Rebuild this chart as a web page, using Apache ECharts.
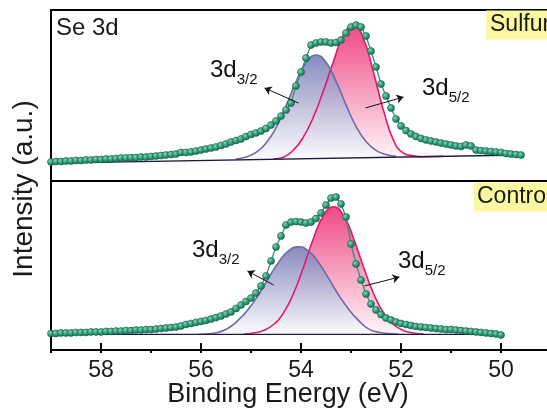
<!DOCTYPE html>
<html>
<head>
<meta charset="utf-8">
<title>Se 3d XPS</title>
<script src="https://cdn.jsdelivr.net/npm/echarts@6/dist/echarts.min.js"></script>
<style>
    html, body { margin: 0; padding: 0; background: #fff; }
    #xps_con { width: 547px; height: 416px; }
</style>
</head>
<body>
<div id="xps_con"></div>
<script>
// binding energy of the scan points (eV)
const energy = [
    59.0, 58.9, 58.8, 58.7, 58.6, 58.5, 58.4, 58.3, 58.2, 58.1,
    58.0, 57.9, 57.8, 57.7, 57.6, 57.5, 57.4, 57.3, 57.2, 57.1,
    57.0, 56.9, 56.8, 56.7, 56.6, 56.5, 56.4, 56.3, 56.2, 56.1,
    56.0, 55.9, 55.8, 55.7, 55.6, 55.5, 55.4, 55.3, 55.2, 55.1,
    55.0, 54.9, 54.8, 54.7, 54.6, 54.5, 54.4, 54.3, 54.2, 54.1,
    54.0, 53.9, 53.8, 53.7, 53.6, 53.5, 53.4, 53.3, 53.2, 53.1,
    53.0, 52.9, 52.8, 52.7, 52.6, 52.5, 52.4, 52.3, 52.2, 52.1,
    52.0, 51.9, 51.8, 51.7, 51.6, 51.5, 51.4, 51.3, 51.2, 51.1,
    51.0, 50.9, 50.8, 50.7, 50.6, 50.5, 50.4, 50.3, 50.2, 50.1,
    50.0, 49.9, 49.8, 49.7, 49.6
];

// measured intensity (a.u.), same order as energy
const sulfurData = [
    11.1, 11.4, 11.4, 11.7, 11.7, 12.0, 12.0, 12.3, 12.3, 12.6,
    12.6, 12.9, 12.9, 13.2, 13.5, 13.5, 13.7, 13.7, 14.0, 14.0,
    14.3, 14.6, 14.9, 15.2, 15.5, 15.8, 16.7, 16.7, 17.0, 17.5,
    18.1, 18.7, 19.3, 19.9, 20.8, 21.6, 22.8, 23.7, 24.6, 26.0,
    27.2, 28.1, 29.2, 30.7, 32.7, 35.1, 38.0, 41.5, 45.6, 55.6,
    63.7, 71.9, 79.5, 80.7, 81.3, 81.3, 80.7, 81.0, 82.5, 86.5,
    90.1, 91.2, 90.1, 84.8, 76.0, 66.7, 56.7, 49.7, 42.7, 36.3,
    32.2, 29.5, 27.5, 26.0, 24.9, 24.0, 23.4, 22.8, 22.2, 21.6,
    21.1, 20.5, 20.2, 21.1, 20.5, 18.1, 17.8, 17.5, 17.3, 17.0,
    16.7, 16.1, 15.8, 15.5, 15.2
];
const controlData = [
    9.8, 9.8, 10.1, 10.1, 10.1, 10.4, 10.4, 10.4, 10.7, 10.7,
    10.7, 11.0, 11.0, 11.2, 11.2, 11.5, 11.5, 11.8, 11.8, 12.1,
    12.1, 12.4, 12.7, 13.0, 13.3, 13.6, 14.2, 15.1, 15.7, 16.3,
    16.9, 17.5, 18.3, 19.2, 20.1, 21.3, 22.5, 24.6, 26.6, 28.7,
    30.8, 33.7, 37.9, 43.8, 52.7, 61.0, 67.5, 74.0, 75.7, 76.0,
    75.7, 75.1, 75.7, 77.8, 81.1, 85.8, 89.9, 90.5, 86.4, 78.7,
    62.7, 50.9, 41.4, 33.1, 27.2, 23.7, 21.0, 18.9, 17.8, 16.6,
    15.7, 15.1, 14.5, 13.9, 13.6, 13.3, 13.0, 12.7, 12.4, 12.1,
    12.1, 11.8, 11.5, 11.2, 11.0, 10.7, 10.4, 10.1, 9.8, 9.5,
    8.9
];

// fitted components [eV, intensity]
const sulfur32 = [
    [55.3, 12.8], [55.1, 14.0], [54.9, 16.7], [54.7, 22.1], [54.5, 31.2], [54.3, 43.9],
    [54.1, 58.0], [53.9, 69.2], [53.7, 73.7], [53.5, 69.4], [53.3, 58.4], [53.1, 44.5],
    [52.9, 32.0], [52.7, 23.1], [52.5, 17.9], [52.3, 15.5], [52.1, 14.4]
];
const sulfur52 = [
    [54.55, 12.9], [54.35, 13.9], [54.15, 18.1], [53.95, 25.8], [53.75, 37.6], [53.55, 52.9],
    [53.35, 70.0], [53.15, 85.3], [52.95, 91.3], [52.75, 83.2], [52.55, 63.4], [52.35, 41.3],
    [52.15, 23.8], [51.95, 16.3], [51.75, 14.7], [51.55, 14.2], [51.35, 14.3], [51.15, 14.4]
];
const control32 = [
    [56.05, 9.3], [55.85, 9.6], [55.65, 10.5], [55.45, 13.0], [55.25, 17.8], [55.05, 24.3],
    [54.85, 32.7], [54.65, 42.5], [54.45, 51.8], [54.25, 58.6], [54.05, 61.1], [53.85, 58.6],
    [53.65, 51.8], [53.45, 42.5], [53.25, 32.7], [53.05, 24.3], [52.85, 17.5], [52.65, 12.5],
    [52.45, 10.5], [52.25, 9.8], [52.05, 9.4]
];
const control52 = [
    [55.15, 9.5], [54.95, 10.1], [54.75, 11.6], [54.55, 15.1], [54.35, 22.0], [54.15, 33.4],
    [53.95, 49.1], [53.75, 66.1], [53.55, 79.6], [53.35, 84.8], [53.15, 79.6], [52.95, 66.1],
    [52.75, 49.1], [52.55, 33.4], [52.35, 22.0], [52.15, 15.1], [51.95, 11.6], [51.75, 10.1],
    [51.55, 9.5]
];

// backgrounds
const sulfurBg = [[59.0, 10.4], [49.6, 15.2]];
const controlBg = [[59.0, 9.3], [50.0, 9.3]];

// annotation arrows [tail, head] in data coords
const sulfurArrows = [[[54.05, 45.6], [54.73, 54.4]], [[52.71, 42.7], [51.95, 49.1]]];
const controlArrows = [[[54.55, 38.5], [55.07, 46.7]], [[52.73, 37.9], [52.03, 43.2]]];

const font = '"Liberation Sans", Arial, Helvetica, sans-serif';

function pairs(values) {
    return values.map((v, i) => [energy[i], v]);
}

function grad(top, bottom) {
    return {
        type: 'linear', x: 0, y: 0, x2: 0, y2: 1,
        colorStops: [{ offset: 0, color: top }, { offset: 1, color: bottom }]
    };
}

const dotColor = {
    type: 'radial', x: 0.35, y: 0.35, r: 0.75,
    colorStops: [
        { offset: 0, color: '#86d3b6' },
        { offset: 0.5, color: '#2f9c78' },
        { offset: 1, color: '#145e47' }
    ]
};

function arrowMark(list) {
    return {
        silent: true,
        symbol: ['none', 'arrow'],
        symbolSize: 7,
        lineStyle: { color: '#111', width: 1, type: 'solid' },
        label: { show: false },
        emphasis: { disabled: true },
        data: list.map(a => [{ coord: a[0] }, { coord: a[1] }])
    };
}

function panelSeries(idx, data, bg, p32, p52, base, arrows) {
    return [{
        type: 'line', xAxisIndex: idx, yAxisIndex: idx,
        data: p52, smooth: 0.5, symbol: 'none',
        lineStyle: { color: '#e3186e', width: 1.6 },
        areaStyle: { origin: base, color: grad('#ee3f7e', '#fff6f9'), opacity: 0.95 },
        markLine: arrowMark([arrows[1]])
    }, {
        type: 'line', xAxisIndex: idx, yAxisIndex: idx,
        data: p32, smooth: 0.5, symbol: 'none',
        lineStyle: { color: '#6d6aa7', width: 1.6 },
        areaStyle: { origin: base, color: grad('#7c7eb8', '#fbfbfd'), opacity: 0.9 },
        markLine: arrowMark([arrows[0]])
    }, {
        type: 'line', xAxisIndex: idx, yAxisIndex: idx,
        data: bg, symbol: 'none',
        lineStyle: { color: '#1c1c3a', width: 1.3 }
    }, {
        type: 'line', xAxisIndex: idx, yAxisIndex: idx,
        data: pairs(data),
        symbol: 'circle', symbolSize: 7,
        itemStyle: { color: dotColor, borderColor: '#155f48', borderWidth: 0.6 },
        lineStyle: { color: '#2a9673', width: 1.3 }
    }];
}

function subLabel(left, top, sub) {
    return {
        type: 'text', left: left, top: top, z: 100,
        style: {
            text: '{a|3d}{b|' + sub + '}',
            fill: '#111',
            rich: {
                a: { fontSize: 24, lineHeight: 34, fontFamily: font, fill: '#111' },
                b: { fontSize: 15, verticalAlign: 'bottom', fontFamily: font, fill: '#111' }
            }
        }
    };
}

const chart = echarts.init(document.getElementById('xps_con'));

const frame = {
    show: true, borderColor: '#000', borderWidth: 2,
    backgroundColor: 'transparent', outerBoundsMode: 'none', containLabel: false
};

const option = {
    animation: false,
    backgroundColor: '#fff',
    grid: [
        Object.assign({ left: 51, right: -54, top: 10, height: 171 }, frame),
        Object.assign({ left: 51, right: -54, top: 181, height: 169 }, frame)
    ],
    xAxis: [{
        gridIndex: 0, type: 'value', min: 48, max: 59, inverse: true,
        axisLine: { show: false }, axisTick: { show: false },
        axisLabel: { show: false }, splitLine: { show: false }
    }, {
        gridIndex: 1, type: 'value', min: 48, max: 59, interval: 2, inverse: true,
        axisLine: { show: true, onZero: false, lineStyle: { color: '#000', width: 2 } },
        axisTick: { inside: true, length: 7, lineStyle: { color: '#000', width: 2 } },
        axisLabel: {
            fontSize: 23, color: '#1a1a1a', margin: 9, fontFamily: font,
            showMaxLabel: false, showMinLabel: false
        },
        splitLine: { show: false }
    }, {
        gridIndex: 1, type: 'value', min: 48, max: 59, interval: 1, inverse: true,
        axisLine: { show: false },
        axisTick: { inside: true, length: 3, lineStyle: { color: '#000', width: 2 } },
        axisLabel: { show: false }, splitLine: { show: false }
    }],
    yAxis: [
        { gridIndex: 0, type: 'value', min: 0, max: 100, show: false },
        { gridIndex: 1, type: 'value', min: 0, max: 100, show: false }
    ],
    graphic: [
        {
            type: 'text', x: 24, y: 189, rotation: Math.PI / 2, z: 100,
            style: {
                text: 'Intensity (a.u.)', fontSize: 28, fontFamily: font, fill: '#1a1a1a',
                textAlign: 'center', textVerticalAlign: 'middle', verticalAlign: 'middle'
            }
        },
        {
            type: 'text', x: 288, y: 395, z: 100,
            style: {
                text: 'Binding Energy (eV)', fontSize: 27, fontFamily: font, fill: '#1a1a1a',
                textAlign: 'center', textVerticalAlign: 'middle', verticalAlign: 'middle'
            }
        },
        {
            type: 'text', x: 56, y: 28, z: 100,
            style: {
                text: 'Se 3d', fontSize: 24, fontFamily: font, fill: '#1a1a1a',
                textAlign: 'left', textVerticalAlign: 'middle', verticalAlign: 'middle'
            }
        },
        {
            type: 'text', x: 486, y: 25, z: 100,
            style: {
                text: 'Sulfur', fontSize: 23, fontFamily: font, fill: '#1a1a1a',
                backgroundColor: '#fbf8a2', padding: [3, 4],
                textAlign: 'left', textVerticalAlign: 'middle', verticalAlign: 'middle'
            }
        },
        {
            type: 'text', x: 474, y: 197, z: 100,
            style: {
                text: 'Control', fontSize: 23, fontFamily: font, fill: '#1a1a1a',
                backgroundColor: '#fbf8a2', padding: [3, 3],
                textAlign: 'left', textVerticalAlign: 'middle', verticalAlign: 'middle'
            }
        },
        subLabel(210, 58, '3/2'),
        subLabel(422, 76, '5/2'),
        subLabel(192, 238, '3/2'),
        subLabel(398, 249, '5/2')
    ],
    series: [].concat(
        panelSeries(0, sulfurData, sulfurBg, sulfur32, sulfur52, 13.3, sulfurArrows),
        panelSeries(1, controlData, controlBg, control32, control52, 9.3, controlArrows)
    )
};

chart.setOption(option);
window.addEventListener('resize', function () {
    chart.resize();
});
</script>
</body>
</html>
